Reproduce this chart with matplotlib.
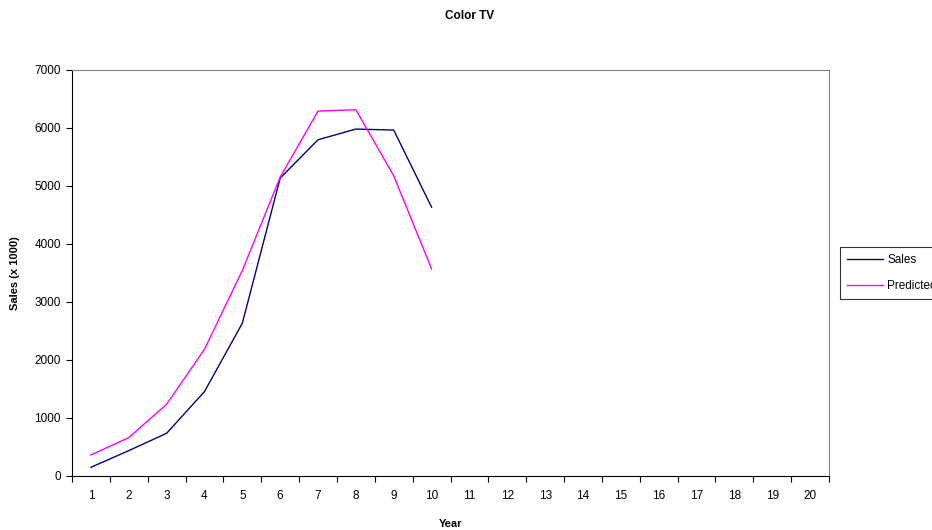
import matplotlib
matplotlib.use("Agg")
import matplotlib.pyplot as plt
import numpy as np

plt.rcParams['font.family'] = ['Liberation Sans', 'DejaVu Sans']

# yearly sales of colour TV sets (x 1000) and model prediction
years = list(range(1, 21))
sales_years = list(range(1, 11))
sales = [150, 437, 736, 1454, 2632, 5132, 5793, 5977, 5960, 4632]
predicted = [362, 661, 1236, 2184, 3540, 5150, 6287, 6310, 5172, 3569]

fig = plt.figure(figsize=(9.32, 5.30), dpi=100)
ax = fig.add_axes([72 / 932, 54 / 530, 757 / 932, 406.3 / 530])

ax.plot(sales_years, sales, color='#000080', lw=1.0, label='Sales')
ax.plot(sales_years, predicted, color='#FF00FF', lw=1.0, label='Predicted')

ax.set_xlim(0.5, 20.5)
ax.set_ylim(0, 7000)
ax.set_yticks(range(0, 7001, 1000))
ax.set_xticks(years)
ax.set_xticklabels([str(y) for y in years])
ax.set_xticks(np.arange(0.5, 21, 1), minor=True)
ax.tick_params(axis='x', which='major', length=0, pad=10, labelsize=8.5)
ax.tick_params(axis='x', which='minor', length=4, width=0.8, direction='out')
ax.tick_params(axis='y', length=4, width=0.8, direction='out', pad=4, labelsize=8.5)

for side in ('top', 'right'):
    ax.spines[side].set_color('#808080')
    ax.spines[side].set_linewidth(0.8)
for side in ('left', 'bottom'):
    ax.spines[side].set_color('black')
    ax.spines[side].set_linewidth(0.8)

ax.set_ylabel('Sales (x 1000)', fontsize=8, fontweight='bold', labelpad=10)
ax.set_xlabel('Year', fontsize=8, fontweight='bold', labelpad=12)
fig.text(470 / 932, 1 - 16 / 530, 'Color TV', ha='center', va='center',
         fontsize=8.5, fontweight='bold')

leg = fig.legend(loc='upper left', bbox_to_anchor=(840 / 932, 1 - 247 / 530),
                 fontsize=8.5, frameon=True, fancybox=False, edgecolor='black',
                 handlelength=3.0, borderaxespad=0, borderpad=0.6,
                 labelspacing=1.2, handletextpad=0.4)
leg.get_frame().set_linewidth(0.8)

fig.savefig('out.png', dpi=100)
